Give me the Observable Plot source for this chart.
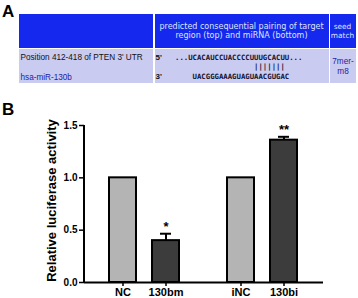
<!DOCTYPE html>
<html>
<head>
<meta charset="utf-8">
<script src="https://cdn.jsdelivr.net/npm/d3@7"></script>
<script src="https://cdn.jsdelivr.net/npm/@observablehq/plot@0.6"></script>
<style>
  html, body { margin: 0; padding: 0; background: #fff; }
  #root { position: relative; width: 358px; height: 298px; overflow: hidden; font-family: "Liberation Sans", Arial, sans-serif; }
  .abs { position: absolute; white-space: pre; }
  .panel { font-weight: bold; font-size: 17px; line-height: 17px; color: #000; }
</style>
</head>
<body>
<div id="root"></div>
<script>
// ---------- Panel A data ----------
const headerPairing = ["predicted consequential pairing of target", "region (top) and miRNA (bottom)"];
const headerSeed = ["seed", "match"];
const targetLabel = "Position 412-418 of PTEN 3' UTR";
const mirnaLabel = "hsa-miR-130b";
const endLabels = ["5'", "3'"];
const seqLines = [
  "...UCACAUCCUACCCCUUUGCACUU...",
  "                  |||||||",
  "    UACGGGAAAGUAGUAACGUGAC"
];
const seedMatch = ["7mer-", "m8"];

// ---------- Panel B data ----------
const categories = ["NC", "130bm", "iNC", "130bi"];
const groups = ["left", "left", "right", "right"];
const kinds = ["control", "treated", "control", "treated"];
const values = [1.0, 0.40, 1.0, 1.36];
const errors = [0, 0.066, 0, 0.032];
const stars = ["", "*", "", "**"];
const yTicks = [0, 0.5, 1.0, 1.5];
const yLabel = "Relative luciferase activity";

const root = document.getElementById("root");
function box(left, top, width, height, bg) {
  const d = document.createElement("div");
  d.className = "abs";
  Object.assign(d.style, {left: left + "px", top: top + "px", width: width + "px", height: height + "px", background: bg});
  root.appendChild(d);
  return d;
}
function txt(content, left, top, style) {
  const d = document.createElement("div");
  d.className = "abs";
  d.textContent = content;
  d.style.left = left + "px";
  d.style.top = top + "px";
  Object.assign(d.style, style || {});
  root.appendChild(d);
  return d;
}

// Panel labels
txt("A", 2, 2.8, {}).classList.add("panel");
txt("B", 2, 100.8, {}).classList.add("panel");

// Table cells
const blue = "#1428ee", lav = "#c9cbf0";
box(19, 14, 134, 33.5, blue);
box(154.5, 14, 174, 33.5, blue);
box(330, 14, 26, 33.5, blue);
box(19, 48.5, 134, 34.5, lav);
box(154.5, 48.5, 174, 34.5, lav);
box(330, 48.5, 26, 34.5, lav);

const headStyle = {fontFamily: "'DejaVu Sans', sans-serif", fontSize: "8px", lineHeight: "9.3px", color: "#dfe4ff", textAlign: "center"};
txt(headerPairing.join("\n"), 154.5, 22, Object.assign({width: "174px"}, headStyle));
txt(headerSeed.join("\n"), 327, 22, Object.assign({width: "31px"}, headStyle, {fontSize: "7.4px"}));

txt(targetLabel, 20.5, 52.7, {fontSize: "8.2px", lineHeight: "10px", color: "#111"});
txt(mirnaLabel, 20.5, 72.5, {fontSize: "8.2px", lineHeight: "10px", color: "#1c1ca6"});
txt(endLabels[0], 155.5, 52.7, {fontSize: "8px", lineHeight: "10px", fontWeight: "bold", color: "#111"});
txt(endLabels[1], 155.5, 71.5, {fontSize: "8px", lineHeight: "10px", fontWeight: "bold", color: "#111"});
txt(seqLines.join("\n"), 175, 53.1, {fontFamily: "'DejaVu Sans Mono', monospace", fontWeight: "bold", fontSize: "7.3px", lineHeight: "9.2px", color: "#121230"});
txt(seedMatch.join("\n"), 328, 57, {width: "30px", textAlign: "center", fontSize: "8.2px", lineHeight: "10px", color: "#1c1ca6"});

// ---------- Panel B chart ----------
const data = categories.map((c, i) => ({cat: c, group: groups[i], kind: kinds[i], value: values[i], err: errors[i], star: stars[i]}));
const shift = {left: -16, right: 16};
const fills = {control: "#b4b4b4", treated: "#3c3c3c"};
const W = 358, H = 208, mL = 84, mR = 35, mT = 35, mB = 16;

const marks = [];
for (const g of ["left", "right"]) {
  const d = data.filter(r => r.group === g);
  const de = d.filter(r => r.err > 0);
  const dx = shift[g];
  marks.push(
    Plot.ruleX(de, {x: "cat", y1: "value", y2: r => r.value + r.err, stroke: "#000", strokeWidth: 2, dx}),
    Plot.tickY(de, {x: "cat", y: r => r.value + r.err, stroke: "#000", strokeWidth: 2, insetLeft: 8, insetRight: 8, dx}),
    Plot.barY(d, {x: "cat", y: "value", fill: r => fills[r.kind], stroke: "#000", strokeWidth: 2, dx}),
    Plot.text(d, {x: "cat", y: r => r.value + r.err, text: "star", dy: -7, fontSize: 13, fontWeight: "bold", fill: "#000", dx}),
    Plot.axisX(d.map(r => r.cat), {dx, tickSize: 4, tickPadding: 2, fontSize: 11, fontWeight: "bold", strokeWidth: 1.5, label: null, fill: "#000"})
  );
}

const chart = Plot.plot({
  width: W,
  height: H,
  marginTop: mT,
  marginBottom: mB,
  marginLeft: mL,
  marginRight: mR,
  style: {fontFamily: "'Liberation Sans', Arial, sans-serif", background: "transparent", color: "#000"},
  x: {domain: categories, paddingInner: 0.364, paddingOuter: 0.898},
  y: {domain: [0, 1.5]},
  marks: [
    ...marks,
    Plot.ruleY([0], {stroke: "#000", strokeWidth: 2}),
    // vertical y-axis line along the left edge of the frame
    Plot.rect([yTicks], {y1: d => d[0], y2: d => d[d.length - 1], fill: "#000", insetRight: (W - mL - mR) - 2, dx: -1}),
    Plot.axisY(yTicks, {tickFormat: d3.format(".1f"), tickSize: 5, tickPadding: 2, fontSize: 10, fontWeight: "bold", strokeWidth: 1.5, label: null, fill: "#000"}),
    Plot.text([yLabel], {text: d => d, frameAnchor: "left", textAnchor: "middle", rotate: -90, dx: -33, dy: -3.5, fontSize: 13, fontWeight: "bold", fill: "#000"})
  ]
});
chart.style.position = "absolute";
chart.style.left = "0px";
chart.style.top = "90px";
root.appendChild(chart);
</script>
</body>
</html>
